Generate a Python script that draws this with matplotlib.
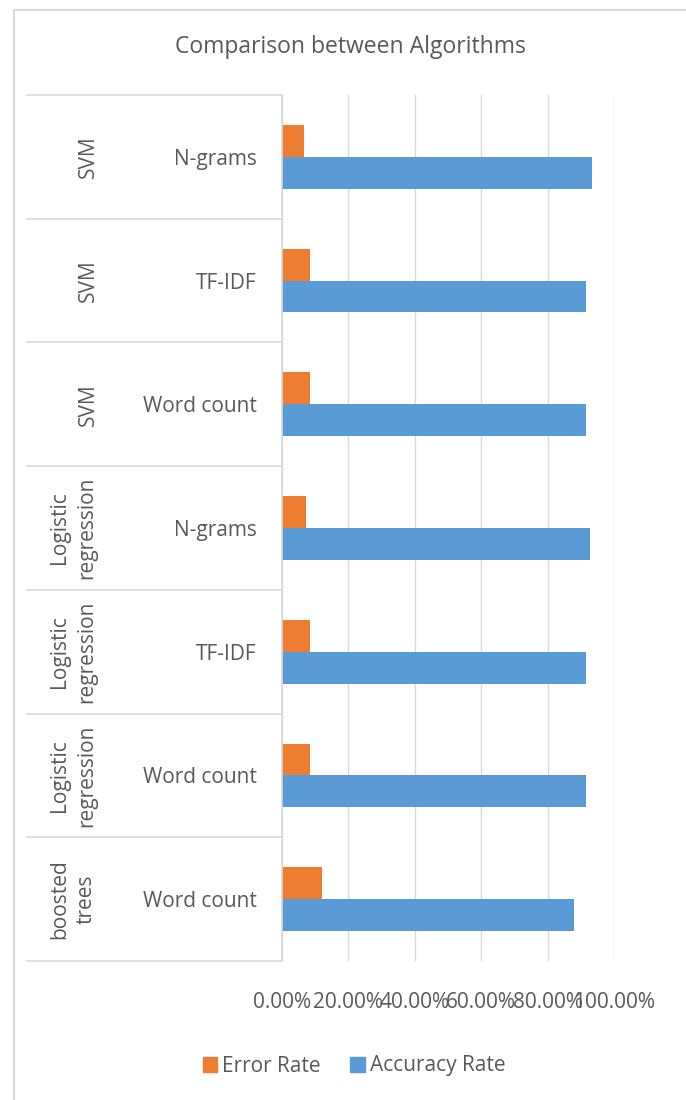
import numpy as np
import matplotlib
matplotlib.use("Agg")
import matplotlib.pyplot as plt
from matplotlib.patches import Rectangle, Patch

# data, bottom to top (Excel order)
groups = ["boosted\ntrees", "Logistic\nregression", "Logistic\nregression", "Logistic\nregression",
          "SVM", "SVM", "SVM"]
features = ["Word count", "Word count", "TF-IDF", "N-grams", "Word count", "TF-IDF", "N-grams"]
error_rate = [0.12, 0.084, 0.083, 0.072, 0.085, 0.085, 0.066]
accuracy_rate = [0.88, 0.916, 0.917, 0.928, 0.915, 0.915, 0.934]
xticks = [0.0, 0.2, 0.4, 0.6, 0.8, 1.0]

W, H = 686, 1100
txt = "#595959"
orange = "#ED7D31"
blue = "#5B9BD5"
plt.rcParams['font.family'] = ['Open Sans', 'DejaVu Sans']
fs = 15

fig = plt.figure(figsize=(W / 100, H / 100), dpi=100)

# chart border
fig.add_artist(Rectangle((14 / W, -0.1), 1.2, 1 - 10 / H + 0.1, transform=fig.transFigure,
                         fill=False, edgecolor="#d9d9d9", linewidth=1.5))

x0, x1, y0, y1 = 282, 614, 95, 961
ax = fig.add_axes([x0 / W, 1 - y1 / H, (x1 - x0) / W, (y1 - y0) / H])

y = np.arange(len(features))
bh = 0.258
ax.barh(y + bh / 2, error_rate, height=bh, color=orange, label="Error Rate")
ax.barh(y - bh / 2, accuracy_rate, height=bh, color=blue, label="Accuracy Rate")

ax.set_xlim(0, 1.0)
ax.set_ylim(-0.5, len(features) - 0.5)
ax.set_xticks(xticks)
ax.set_xticklabels([f"{v * 100:.2f}%" for v in xticks])
ax.set_yticks(y)
ax.set_yticklabels(features)
ax.tick_params(axis="y", length=0, pad=18, labelsize=fs, labelcolor=txt)
ax.tick_params(axis="x", length=0, pad=22, labelsize=fs, labelcolor=txt)
ax.grid(axis="x", color="#d9d9d9", linewidth=1)
ax.set_axisbelow(True)
for s in ["top", "right", "bottom"]:
    ax.spines[s].set_visible(False)
ax.spines["left"].set_color("#d9d9d9")
ax.spines["left"].set_linewidth(1.2)

# multi-level category table lines and outer labels
tr = ax.get_yaxis_transform()
left = (27 - x0) / (x1 - x0)
for b in np.arange(len(features) + 1) - 0.5:
    ax.plot([left, 0], [b, b], transform=tr, color="#d9d9d9", linewidth=1.2, clip_on=False)
for yi, g in zip(y, groups):
    gx = 88 if "\n" not in g else 73
    ax.text((gx - x0) / (x1 - x0), yi, g, transform=tr, rotation=90, ha="center", va="center",
            fontsize=fs, color=txt, linespacing=1.35, multialignment="center")

fig.text(350 / W, 1 - 47 / H, "Comparison between Algorithms", ha="center", va="center",
         fontsize=16.5, color=txt)

handles = [Patch(color=orange, label="Error Rate"), Patch(color=blue, label="Accuracy Rate")]
fig.legend(handles=handles, loc="center", bbox_to_anchor=(354 / W, 1 - 1066 / H), ncol=2,
           frameon=False, fontsize=fs, labelcolor=txt, handlelength=0.7, handleheight=0.7,
           handletextpad=0.25, columnspacing=1.4)

fig.savefig("out.png", dpi=100)
